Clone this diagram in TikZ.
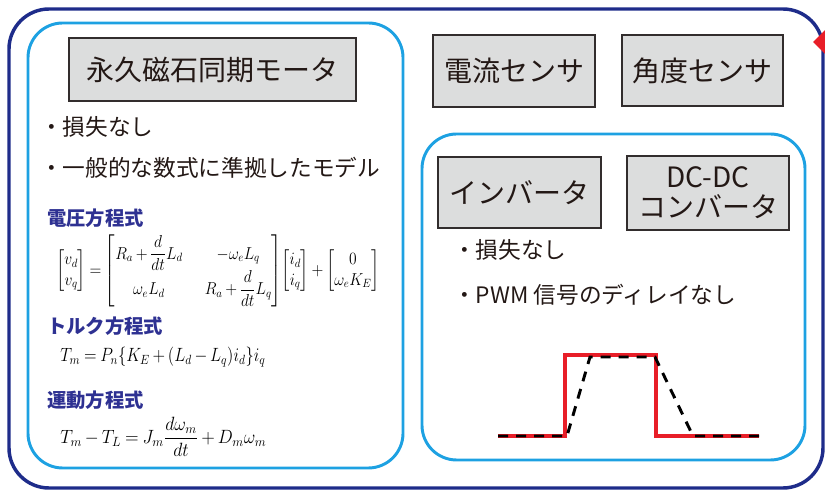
\documentclass[tikz,border=0pt]{standalone}
\usepackage{amsmath}
\usepackage{graphicx}
\usepackage{fontspec}
\setmainfont{Noto Sans CJK JP}
\definecolor{outerblue}{RGB}{30,44,138}
\definecolor{lightblue}{RGB}{29,161,226}
\definecolor{grayfill}{RGB}{220,221,221}
\definecolor{borderdark}{RGB}{50,45,45}
\definecolor{headblue}{RGB}{46,49,146}
\definecolor{wavered}{RGB}{232,30,40}
\definecolor{txt}{RGB}{35,24,21}
\newcommand{\eqtight}{\medmuskip=3mu\relax\thickmuskip=4mu\relax\arraycolsep=3pt\relax}
\newcommand{\eqbox}[3]{\scalebox{#1}[#2]{\eqtight$#3$}}
\begin{document}
\begin{tikzpicture}[x=0.75pt,y=-0.75pt,
  outerframe/.style={draw=outerblue,line width=2.6pt,rounded corners=30pt},
  innerframe/.style={draw=lightblue,line width=2.2pt,rounded corners=26pt},
  gbox/.style={draw=borderdark,fill=grayfill,line width=1.1pt,inner sep=0pt,
    text=txt,font=\fontsize{21}{22.5}\selectfont,align=center},
  bullet/.style={anchor=west,inner sep=0pt,text=txt,font=\fontsize{17}{20}\selectfont},
  heading/.style={anchor=west,inner sep=0pt,text=headblue,font=\fontsize{14.5}{16}\selectfont\bfseries},
  eq/.style={anchor=west,inner sep=0pt,text=black,font=\fontsize{14.5}{17}\selectfont},
  redwave/.style={draw=wavered,line width=3pt},
  dashwave/.style={draw=black,line width=2.2pt,dash pattern=on 7.5pt off 6pt}]
\useasboundingbox (0,0) rectangle (825,491);
% frames
\draw[outerframe] (9,9) rectangle (823,488);
\draw[innerframe] (28,23) rectangle (403,468);
\draw[innerframe] (422,134) rectangle (805,460);
\fill[wavered] (813,42) -- (825,30) -- (837,42) -- (825,54) -- cycle;
% gray boxes
\node[gbox,minimum width=215.25pt,minimum height=47.25pt] (motor) at (212.5,69.5) {永久磁石同期モータ};
\node[gbox,minimum width=121.5pt,minimum height=54pt] (current) at (514,71) {電流センサ};
\node[gbox,minimum width=120.75pt,minimum height=53.25pt] (angle) at (702.5,70.5) {角度センサ};
\node[gbox,minimum width=122.25pt,minimum height=53.25pt] (inverter) at (519.5,192.5) {インバータ};
\node[gbox,minimum width=121.5pt,minimum height=55.5pt] (dcdc) at (708,193) {DC-DC\\コンバータ};
% bullets left
\node[bullet] (b1) at (40,127) {・損失なし};
\node[bullet] (b2) at (40,168) {・一般的な数式に準拠したモデル};
% headings and equations
\node[heading] (h1) at (47,218) {電圧方程式};
\node[eq] (e1) at (56,271) {\eqbox{0.81}{0.9}{\begin{bmatrix} v_d \\ v_q \end{bmatrix} = \begin{bmatrix} R_a + \dfrac{d}{dt}L_d & \quad -\omega_e L_q \\[1pt] \omega_e L_d & \quad R_a + \dfrac{d}{dt}L_q \end{bmatrix}\mskip-4mu\begin{bmatrix} i_d \\ i_q \end{bmatrix} + \begin{bmatrix} 0 \\ \omega_e K_E \end{bmatrix}}};
\node[heading] (h2) at (47,326) {トルク方程式};
\node[eq] (e2) at (60,357) {\eqbox{0.86}{1}{T_m = P_n\{K_E + (L_d - L_q)i_d\}i_q}};
\node[heading] (h3) at (47,400) {運動方程式};
\node[eq] (e3) at (60,437) {\eqbox{0.93}{1}{T_m - T_L = J_m\dfrac{d\omega_m}{dt} + D_m\omega_m}};
% bullets right
\node[bullet] (b3) at (453,250) {・損失なし};
\node[bullet] (b4) at (453,295) {・PWM 信号のディレイなし};
% waveform
\draw[redwave] (498,436) -- (565,436) -- (565,355) -- (656,355) -- (656,436) -- (759,436);
\draw[dashwave] (498,436) -- (567,436) -- (590,357) -- (655,357) -- (693,436) -- (759,436);
\end{tikzpicture}
\end{document}
